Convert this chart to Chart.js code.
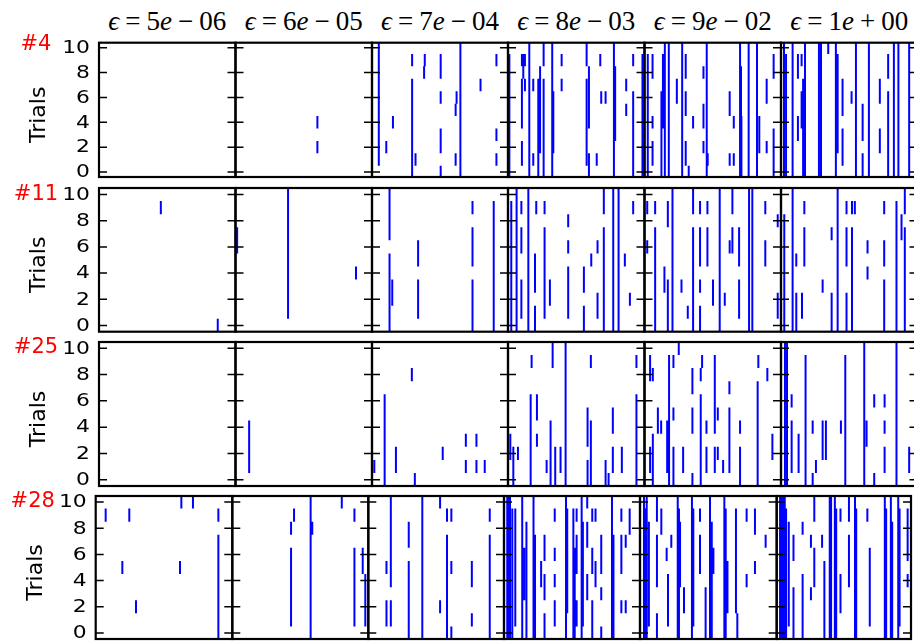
<!DOCTYPE html>
<html><head><meta charset="utf-8">
<script src="https://cdn.jsdelivr.net/npm/chart.js@4.4.0/dist/chart.umd.min.js"></script>
<style>
html,body{margin:0;padding:0;background:#fff;}
body{width:914px;height:641px;overflow:hidden;position:relative;}
canvas{position:absolute;}
.ttl{position:absolute;top:8px;font-family:"Liberation Serif","DejaVu Serif",serif;font-size:27px;line-height:27px;white-space:nowrap;transform:translateX(-50%);color:#000;}
.ttl i{font-style:italic;}
.ttl .op{margin:0 6px;}
</style></head><body>
<script>
// ---- labels ----
const epsMant = ['5','6','7','8','9','1'];
const epsSign = ['−','−','−','−','−','+'];
const epsExp  = ['06','05','04','03','02','00'];
const neurons = ['#4','#11','#25','#28'];
const yTicks  = [0,2,4,6,8,10];
const yLabel  = 'Trials';

// ---- spike marks: [time (0-100), first trial, last trial] ----
const r1c1 = [];
const r1c2 = [[60,4,4],[60,2,2]];
const r1c3 = [[5,1,10],[10.5,2,2],[15.4,4,4],[29.5,9,9],[29.5,0,7],[32,1,1],[38.8,9,9],[38.3,8,8],[50.5,8,9],[50.5,6,6],[50.5,2,3],[50.5,0,0],[61.5,5,5],[61.5,1,1],[62.2,6,6],[65,0,10],[79.8,7,7],[91.5,9,9],[91.5,3,3],[91.5,1,1]];
const r1c4 = [[1,0,9],[10.2,9,9],[10.2,4,7],[10.2,1,2],[11.2,8,9],[12.4,9,9],[12.4,7,7],[15.6,0,10],[18.5,7,7],[18.5,1,1],[22.2,0,7],[23.5,2,8],[26.1,9,10],[26.1,0,7],[32.4,0,10],[33.2,2,6],[39.3,9,9],[39.3,7,7],[57.6,9,10],[57.6,1,7],[59.3,8,8],[59.3,4,7],[59.3,0,1],[65,1,1],[67.6,9,9],[68.3,6,6],[71.5,6,6],[77.6,0,10],[78.5,3,8],[86.6,7,7],[86.6,5,5],[91.7,9,9],[91.7,0,6],[98.5,0,9]];
const r1c5 = [[2.4,0,9],[5.9,8,9],[5.9,4,4],[5.9,1,2],[12.4,0,6],[13.5,4,9],[14.9,0,10],[17.8,0,10],[23.7,6,7],[27.6,0,10],[30.2,8,9],[30.2,5,6],[30.2,1,2],[32.4,0,0],[35.6,4,4],[43.2,8,8],[43.2,4,5],[43.2,2,2],[45.6,0,10],[46.3,1,1],[62.4,5,6],[62.4,1,1],[65.4,4,4],[65.4,1,1],[70,0,10],[70.7,5,8],[71,0,4],[76.3,0,10],[82.4,0,10],[84.1,2,4],[89.5,6,7],[89.5,2,2],[94.6,0,3],[94.6,8,9]];
const r1c6 = [[2.2,0,10],[3.7,0,9],[8.5,0,10],[12.4,8,9],[12.4,3,4],[15.1,9,9],[15.1,4,6],[16.2,0,7],[17.6,0,10],[27.8,0,10],[29.3,0,10],[34.6,10,10],[40.2,0,10],[41.5,2,9],[45.1,5,7],[45.1,1,3],[51.7,6,6],[54.9,0,10],[59.8,3,5],[59.8,0,1],[64.4,0,10],[72.4,6,7],[72.4,2,3],[78.5,8,9],[78.5,0,6],[82.7,0,10],[86,0,10],[93.9,0,10]];
const r2c1 = [[45.3,9,9],[87,0,0]];
const r2c2 = [[1.2,6,7],[38.5,1,10],[88.3,4,4]];
const r2c3 = [[12.9,7,10],[12.9,0,5],[14.9,2,3],[33.9,5,6],[33.9,1,3],[73.9,9,9],[73.9,5,7],[73.9,0,3],[89.5,0,9]];
const r2c4 = [[2.4,0,9],[6.3,0,10],[9.8,9,9],[9.8,6,7],[9.8,1,3],[14.9,0,10],[19.8,3,5],[19.8,0,1],[20.7,9,9],[26.8,9,9],[26.8,1,7],[30.7,2,3],[44.1,8,8],[44.1,6,6],[44.1,1,4],[55.6,3,4],[55.6,0,1],[61,5,5],[65.6,6,6],[65.6,1,2],[70.2,9,10],[70.2,0,7],[77.1,0,10],[81,0,10],[85.6,5,5],[89.3,2,2],[91.7,9,9]];
const r2c5 = [[2,6,6],[2,9,9],[7.8,9,9],[7.8,0,7],[14.6,3,4],[17.1,8,9],[17.1,0,3],[20.5,0,10],[27.1,3,3],[31.7,1,1],[35.6,9,10],[35.6,0,7],[40.7,9,9],[40.7,5,7],[40.7,3,3],[40.7,0,1],[46.1,9,9],[46.1,5,7],[50.2,2,3],[55.1,0,10],[58.8,2,2],[62.4,6,6],[64.4,9,10],[64.4,6,7],[69.3,5,7],[69.3,1,3],[76.6,0,10],[79,0,10],[88.5,9,9],[88.5,5,6],[97.6,8,8],[97.6,1,2]];
const r2c6 = [[2.4,0,8],[8.5,0,10],[11.2,5,5],[11.2,0,2],[15.4,1,2],[17.1,9,9],[17.1,5,7],[30.5,3,3],[37.1,7,7],[37.1,0,2],[41.5,0,10],[48,9,9],[48,5,7],[48,0,2],[52,9,9],[52,0,7],[54.1,9,9],[63.4,6,6],[63.4,4,4],[75.6,9,9],[75.6,5,6],[75.6,0,3],[84.6,0,9],[88.3,7,8],[90.7,9,10],[90.7,0,7]];
const r3c1 = [];
const r3c2 = [[10,1,4]];
const r3c3 = [[1.7,1,1],[9.3,0,6],[17.6,1,2],[29.3,8,8],[31.5,0,0],[52,2,2],[69,3,3],[69,1,1],[76.8,3,3],[76.8,1,1],[82.9,1,1]];
const r3c4 = [[1.7,2,3],[3.9,0,2],[7.3,2,2],[16.6,0,6],[17.3,9,9],[21.2,5,6],[21.2,3,3],[28.3,1,1],[31.2,0,4],[32.7,9,10],[34.6,0,2],[38.5,1,2],[42.2,0,10],[58.3,3,5],[58.3,0,1],[60.7,9,9],[60.7,0,4],[71.5,0,1],[73.7,0,0],[76.8,4,5],[76.8,1,2],[83.4,1,2],[94.1,9,9],[94.1,0,6]];
const r3c5 = [[4.1,8,9],[4.1,1,2],[6.1,8,8],[6.1,0,3],[9.8,4,5],[12.2,4,4],[16.6,1,4],[18,0,9],[21.2,9,9],[21.2,5,5],[21.2,0,2],[25.1,10,10],[28.3,1,2],[35.1,7,8],[35.1,4,5],[35.1,0,0],[41.2,8,8],[41.2,0,6],[42.2,9,9],[45.4,4,4],[45.4,1,2],[51.5,8,9],[51.5,4,7],[51.5,1,2],[53.7,5,5],[53.7,2,2],[57.6,1,1],[62.2,7,7],[62.2,1,5],[70,4,4],[70,0,2],[82.9,0,7],[83.4,9,9],[90,8,8],[93.7,2,3]];
const r3c6 = [[2.9,0,10],[4.4,0,10],[7.8,6,6],[7.8,1,4],[12.9,1,3],[18,0,9],[23.2,4,4],[23.2,0,0],[25.6,1,1],[30.5,2,4],[32.9,2,4],[43.9,4,4],[47.1,0,9],[61,0,10],[62.7,3,4],[68.3,6,6],[68.3,0,0],[75.9,6,6],[75.9,4,4],[75.9,1,2],[84.6,0,10],[93.9,1,2]];
const r4c1 = [[7.3,9,9],[19.5,5,5],[24.6,9,9],[29.5,2,2],[61.7,5,5],[62.7,10,10],[71.2,10,10],[89.8,9,9],[89.8,0,7]];
const r4c2 = [[43.2,8,8],[43.2,1,6],[45.4,9,9],[57.6,0,10],[58.8,8,8],[80.5,10,10],[89.8,9,9],[89.8,1,6],[95.9,5,6],[97.8,1,4]];
const r4c3 = [[13.4,5,5],[13.4,1,2],[16.6,10,10],[16.6,4,9],[16.6,1,2],[29.8,7,8],[29.8,0,5],[39.8,0,10],[52.9,10,10],[52.9,2,2],[58,9,9],[58,0,7],[61.2,9,9],[61.2,5,5],[61.2,0,0],[76.3,4,5],[76.3,1,1],[89.5,9,9],[89.5,0,7]];
const r4c4 = [[2.4,0,10],[3.3,0,10],[4.4,0,10],[6.1,0,9],[8.3,1,9],[13.4,0,10],[14.9,3,6],[16.5,0,8],[21.7,0,10],[22.8,0,7],[27.3,4,5],[29.8,6,7],[29.8,3,4],[29.8,0,1],[37.3,9,9],[37.3,6,6],[37.3,4,4],[37.3,1,2],[45.6,0,10],[46.5,2,9],[51,0,9],[52,0,6],[53.4,9,9],[53.4,5,7],[53.4,1,2],[57.1,0,10],[58,1,8],[61.2,10,10],[61.2,7,8],[61.2,3,4],[64.9,9,9],[64.9,5,6],[64.9,0,2],[67.3,9,9],[67.3,4,5],[71.5,5,7],[71.5,3,3],[71.5,0,0],[79.4,0,10],[80.5,0,7],[86.3,9,9],[86.3,5,7],[86.3,2,2],[89.5,7,7],[89.5,2,2],[92.4,8,9]];
const r4c5 = [[2.9,0,10],[3.9,0,9],[4.9,0,10],[6.5,1,8],[12.4,9,10],[12.4,4,7],[12.4,0,1],[15.6,8,9],[19.5,6,6],[20.5,1,4],[22.9,7,7],[27.6,0,10],[28.5,0,9],[29.3,4,8],[32.2,2,3],[38,0,10],[39,1,9],[43.9,9,9],[43.9,5,7],[48,0,3],[51.2,0,10],[52.5,0,8],[53.7,5,6],[61.7,0,10],[62.7,0,9],[64,2,5],[70.2,2,9],[71.2,0,1],[78,9,9],[78,4,4],[84.1,8,9],[84.1,5,5],[91.9,7,7]];
const r4c6 = [[2.5,0,10],[3.7,0,10],[5,0,10],[6,0,10],[7,0,9],[9,1,8],[12.5,6,7],[12.5,0,3],[19.3,8,8],[19.3,0,4],[25.5,7,7],[25.5,3,3],[28,9,10],[28,4,6],[33.8,7,7],[35.5,0,5],[39.5,0,10],[40.5,0,10],[43.3,0,10],[44.3,0,9],[47.5,9,9],[47.5,2,4],[53.8,9,10],[53.8,4,7],[58.3,0,10],[59.2,0,9],[67.5,9,9],[69.3,1,6],[80.5,0,10],[81.5,0,9],[85,0,10],[86,0,8],[90.5,0,10],[91.5,1,9],[97.5,9,9],[97.5,6,8],[97.5,4,4]];

const panels = [
  [r1c1,r1c2,r1c3,r1c4,r1c5,r1c6],
  [r2c1,r2c2,r2c3,r2c4,r2c5,r2c6],
  [r3c1,r3c2,r3c3,r3c4,r3c5,r3c6],
  [r4c1,r4c2,r4c3,r4c4,r4c5,r4c6]
];

// ---- layout (pixels) ----
const rowTop = [42.7,188,342,496];
const rowBottom = [177,331.7,486,639];
const std = [99,235.5,372,508,644.5,781,917.5];
const colEdges = [std,std,std,[95.7,232.3,368.3,504,640,776.7,911]];
const yLimits = [[-0.4,10.4],[-0.48,10.5],[-0.48,10.48],[-0.46,10.46]];
const labelOffset = [-0.2,4.5,3.5,3.5];

// ---- titles ----
for (let c=0;c<6;c++){
  const d=document.createElement('div');
  d.className='ttl';
  d.style.left=((std[c]+std[c+1])/2)+'px';
  d.innerHTML='<i>ϵ</i><span class="op">=</span>'+epsMant[c]+'<i>e</i><span class="op">'+epsSign[c]+'</span>'+epsExp[c];
  document.body.appendChild(d);
}

const framePlugin = {
  id:'frame',
  afterDraw(chart,args,opts){
    const ctx=chart.ctx, a=chart.chartArea, y=chart.scales.y;
    ctx.save();
    ctx.strokeStyle='#000';
    ctx.lineWidth=1.5;
    yTicks.forEach(v=>{
      const py=y.getPixelForValue(v);
      ctx.beginPath();
      ctx.moveTo(a.left,py); ctx.lineTo(a.left+8,py);
      ctx.moveTo(a.right,py); ctx.lineTo(a.right-8,py);
      ctx.stroke();
    });
    ctx.lineWidth=2.2;
    ctx.strokeRect(a.left,a.top,a.right-a.left,a.bottom-a.top);
    if (opts.first){
      ctx.fillStyle='#000';
      ctx.font='18.5px "DejaVu Sans"';
      ctx.textAlign='right';
      ctx.textBaseline='middle';
      yTicks.forEach(v=>{
        const py=y.getPixelForValue(v);
        ctx.save();
        ctx.translate(a.left-9,py+0.5);
        ctx.scale(1.18,1);
        ctx.fillText(String(v),0,0);
        ctx.restore();
      });
      ctx.save();
      ctx.font='22px "DejaVu Sans"';
      ctx.textAlign='center';
      ctx.textBaseline='alphabetic';
      ctx.translate(a.left-62.5+0.38*22,(a.top+a.bottom)/2+5);
      ctx.rotate(-Math.PI/2);
      ctx.fillText(yLabel,0,0);
      ctx.restore();
      ctx.font='21px "DejaVu Sans"';
      ctx.fillStyle='#ff0000';
      ctx.textAlign='center';
      ctx.textBaseline='alphabetic';
      ctx.fillText(opts.neuron,a.left-63,a.top+opts.labelOff+0.365*21);
    }
    ctx.restore();
  }
};

function toPoints(list){
  const pts=[];
  list.forEach(s=>{
    pts.push({x:s[0],y:s[1]-0.5});
    pts.push({x:s[0],y:s[2]+0.5});
    pts.push({x:s[0],y:null});
  });
  return pts;
}

for (let r=0;r<4;r++){
  for (let c=0;c<6;c++){
    const L=colEdges[r][c], R=colEdges[r][c+1], T=rowTop[r], B=rowBottom[r];
    const first=(c===0);
    const x0 = first?0:Math.floor(L)-4;
    const y0 = Math.floor(T)-(first?16:4);
    const x1 = Math.ceil(R)+4, y1=Math.ceil(B)+4;
    const cv=document.createElement('canvas');
    cv.width=x1-x0; cv.height=y1-y0;
    cv.style.left=x0+'px'; cv.style.top=y0+'px';
    cv.style.width=(x1-x0)+'px'; cv.style.height=(y1-y0)+'px';
    document.body.appendChild(cv);
    new Chart(cv,{
      type:'line',
      data:{datasets:[{
        data:toPoints(panels[r][c]),
        borderColor:'#0000ff',
        borderWidth:2,
        borderCapStyle:'butt',
        pointRadius:0,
        pointHoverRadius:0,
        spanGaps:false,
        tension:0
      }]},
      options:{
        responsive:false,
        animation:false,
        events:[],
        devicePixelRatio:1,
        layout:{padding:{left:L-x0,right:x1-R,top:T-y0,bottom:y1-B}},
        plugins:{
          legend:{display:false},
          tooltip:{enabled:false},
          frame:{first:first,neuron:neurons[r],labelOff:labelOffset[r]}
        },
        scales:{
          x:{type:'linear',min:0,max:100,display:false},
          y:{type:'linear',min:yLimits[r][0],max:yLimits[r][1],display:false}
        }
      },
      plugins:[framePlugin]
    });
  }
}
</script>
</body></html>
